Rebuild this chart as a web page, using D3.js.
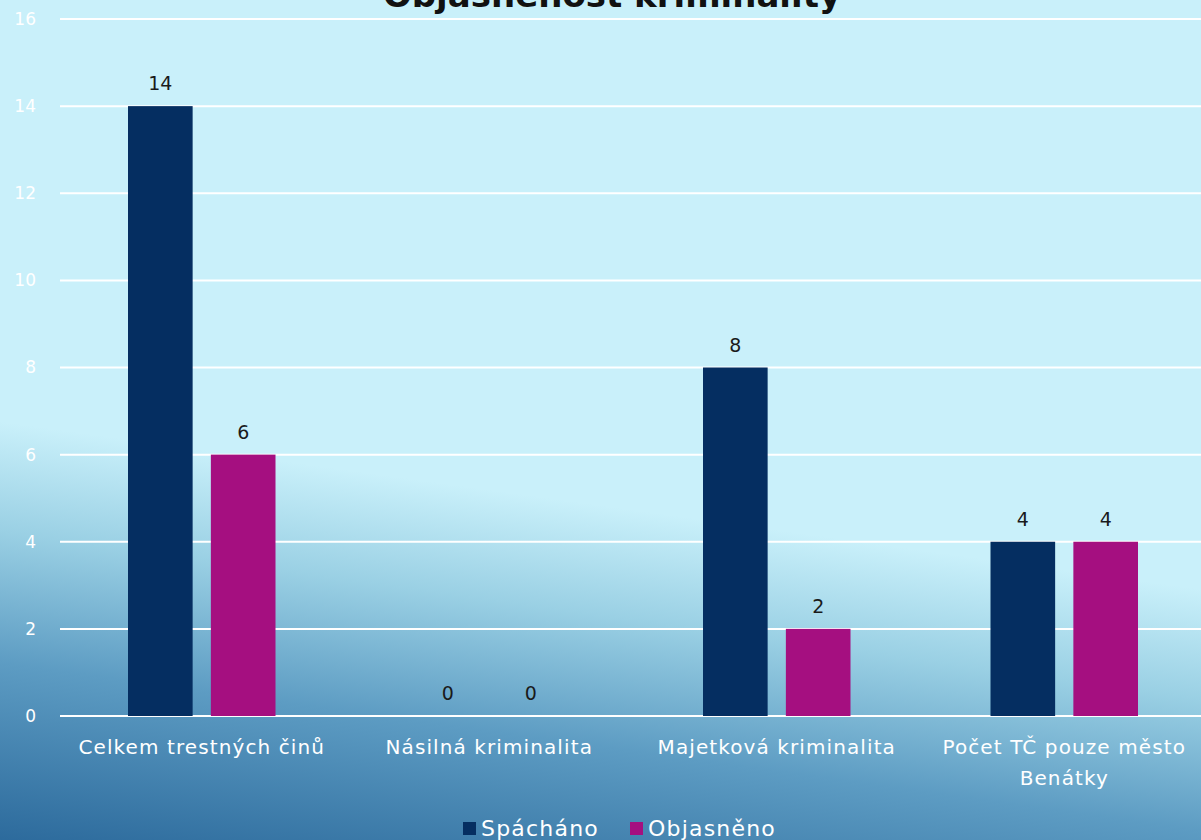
<!DOCTYPE html>
<html>
<head>
<meta charset="utf-8">
<script src="https://cdn.jsdelivr.net/npm/d3@7"></script>
<style>
  html, body { margin: 0; padding: 0; overflow: hidden; }
  body { width: 1201px; height: 840px; }
  svg text { font-family: "DejaVu Sans", sans-serif; }
</style>
</head>
<body>
<div id="chart"></div>
<script>
const title = 'Objasněnost kriminality';
const categories = ['Celkem trestných činů', 'Násilná kriminalita', 'Majetková kriminalita', 'Počet TČ pouze město Benátky'];
const seriesNames = ['Spácháno', 'Objasněno'];
const spachano = [14, 0, 8, 4];
const objasneno = [6, 0, 2, 4];
const yTicks = [0, 2, 4, 6, 8, 10, 12, 14, 16];
const colors = ['#052e61', '#a50f80'];

const width = 1201;
const height = 840;
const margin = {top: 19, right: -7, bottom: 124, left: 58};

const svg = d3.select('#chart')
    .append('svg')
    .attr('width', width)
    .attr('height', height);

// background gradient
const defs = svg.append('defs');
const grad = defs.append('linearGradient')
    .attr('id', 'bg')
    .attr('gradientUnits', 'userSpaceOnUse')
    .attr('x1', 0).attr('y1', 860)
    .attr('x2', 60).attr('y2', 430);
grad.append('stop').attr('offset', 0).attr('stop-color', '#276598');
grad.append('stop').attr('offset', 0.45).attr('stop-color', '#5d9cc3');
grad.append('stop').attr('offset', 0.75).attr('stop-color', '#9ad0e4');
grad.append('stop').attr('offset', 1).attr('stop-color', '#c9f0fa');

svg.append('rect')
    .attr('width', width)
    .attr('height', height)
    .attr('fill', 'url(#bg)');

const x0 = d3.scaleBand()
    .domain(categories)
    .range([margin.left, width - margin.right])
    .paddingInner(0)
    .paddingOuter(0);

const x1 = d3.scaleBand()
    .domain(seriesNames)
    .range([70, x0.bandwidth() - 70])
    .paddingInner(0.22);

const y = d3.scaleLinear()
    .domain([0, 16])
    .range([height - margin.bottom, margin.top]);

// gridlines
svg.append('g')
    .selectAll('line')
    .data(yTicks)
    .enter()
    .append('line')
    .attr('x1', margin.left + 2)
    .attr('x2', width)
    .attr('y1', d => y(d))
    .attr('y2', d => y(d))
    .attr('stroke', '#ffffff')
    .attr('stroke-width', 2);

// y axis labels
svg.append('g')
    .selectAll('text')
    .data(yTicks)
    .enter()
    .append('text')
    .attr('x', 36)
    .attr('y', d => y(d))
    .attr('dy', '0.35em')
    .attr('text-anchor', 'end')
    .style('font-size', '17px')
    .style('fill', '#ffffff')
    .text(d => d);

const rows = categories.map((c, i) => ({
    category: c,
    values: [
        {name: seriesNames[0], value: spachano[i]},
        {name: seriesNames[1], value: objasneno[i]}
    ]
}));

const groups = svg.append('g')
    .selectAll('g')
    .data(rows)
    .enter()
    .append('g')
    .attr('transform', d => `translate(${x0(d.category)},0)`);

groups.selectAll('rect')
    .data(d => d.values)
    .enter()
    .append('rect')
    .attr('x', d => x1(d.name))
    .attr('y', d => y(d.value))
    .attr('width', x1.bandwidth())
    .attr('height', d => y(0) - y(d.value))
    .attr('fill', (d, i) => colors[i]);

groups.selectAll('text')
    .data(d => d.values)
    .enter()
    .append('text')
    .attr('x', d => x1(d.name) + x1.bandwidth() / 2)
    .attr('y', d => y(d.value) - 16)
    .attr('text-anchor', 'middle')
    .style('font-size', '19px')
    .style('fill', '#1a1a1a')
    .text(d => d.value);

// category labels
svg.append('g')
    .selectAll('text')
    .data(categories)
    .enter()
    .append('text')
    .attr('x', d => x0(d) + x0.bandwidth() / 2)
    .attr('y', y(0) + 38)
    .attr('text-anchor', 'middle')
    .style('font-size', '20px')
    .style('letter-spacing', '1.1px')
    .style('fill', '#ffffff')
    .text(d => d)
    .call(wrap, 275);

// title
svg.append('text')
    .attr('x', 612)
    .attr('y', 7)
    .attr('text-anchor', 'middle')
    .style('font-size', '34px')
    .style('font-weight', 'bold')
    .style('fill', '#111111')
    .text(title);

// legend
const legendX = [463, 630];
const legend = svg.append('g')
    .selectAll('g')
    .data(seriesNames)
    .enter()
    .append('g')
    .attr('transform', (d, i) => `translate(${legendX[i]},0)`);

legend.append('rect')
    .attr('x', 0)
    .attr('y', 822)
    .attr('width', 13)
    .attr('height', 13)
    .attr('fill', (d, i) => colors[i]);

legend.append('text')
    .attr('x', 18)
    .attr('y', 836)
    .style('font-size', '22px')
    .style('letter-spacing', '1.2px')
    .style('fill', '#ffffff')
    .text(d => d);

function wrap(text, maxWidth) {
    text.each(function() {
        const text = d3.select(this);
        const words = text.text().split(/\s+/).reverse();
        const x = text.attr('x');
        const y0 = text.attr('y');
        let word;
        let line = [];
        let lineNumber = 0;
        let tspan = text.text(null).append('tspan').attr('x', x).attr('y', y0);
        while (word = words.pop()) {
            line.push(word);
            tspan.text(line.join(' '));
            if (tspan.node().getComputedTextLength() > maxWidth && line.length > 1) {
                line.pop();
                tspan.text(line.join(' '));
                line = [word];
                lineNumber++;
                tspan = text.append('tspan')
                    .attr('x', x)
                    .attr('y', +y0 + lineNumber * 31)
                    .text(word);
            }
        }
    });
}
</script>
</body>
</html>
